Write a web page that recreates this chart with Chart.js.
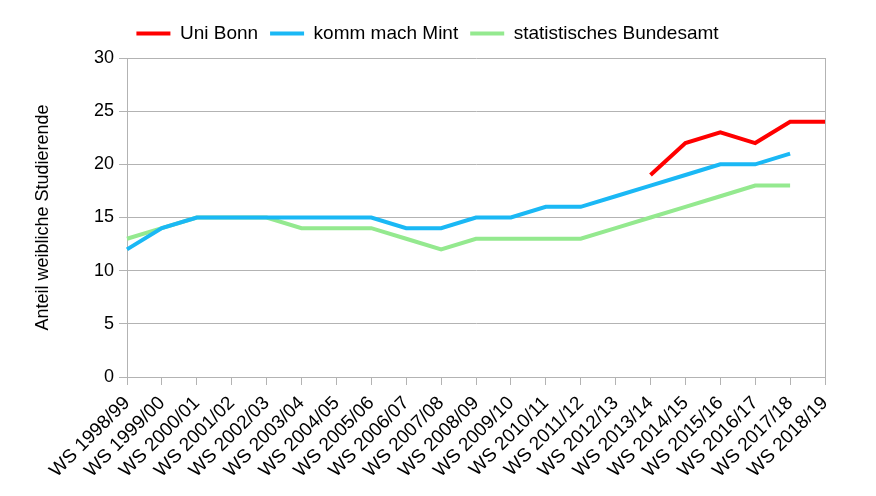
<!DOCTYPE html>
<html lang="de">
<head>
    <meta charset="UTF-8">
    <title>Anteil weibliche Studierende</title>
    <script src="https://cdn.jsdelivr.net/npm/chart.js"></script>
    <style>
        body { margin: 0; background: #fff; }
        #wrap { width: 876px; height: 496px; }
    </style>
</head>
<body>
    <div id="wrap"><canvas id="grafico"></canvas></div>
    <script>
        const semester = ['WS 1998/99', 'WS 1999/00', 'WS 2000/01', 'WS 2001/02', 'WS 2002/03',
            'WS 2003/04', 'WS 2004/05', 'WS 2005/06', 'WS 2006/07', 'WS 2007/08', 'WS 2008/09',
            'WS 2009/10', 'WS 2010/11', 'WS 2011/12', 'WS 2012/13', 'WS 2013/14', 'WS 2014/15',
            'WS 2015/16', 'WS 2016/17', 'WS 2017/18', 'WS 2018/19'];
        const uniBonn = [null, null, null, null, null, null, null, null, null, null, null,
            null, null, null, null, 19, 22, 23, 22, 24, 24];
        const kommMachMint = [12, 14, 15, 15, 15, 15, 15, 15, 14, 14, 15,
            15, 16, 16, 17, 18, 19, 20, 20, 21, null];
        const statBundesamt = [13, 14, 15, 15, 15, 14, 14, 14, 13, 12, 13,
            13, 13, 13, 14, 15, 16, 17, 18, 18, null];

        const grigio = '#b3b3b3';
        Chart.defaults.font.family = '"Liberation Sans", Arial, sans-serif';
        Chart.defaults.font.size = 18;
        Chart.defaults.color = '#000';

        function serie(label, data, colore) {
            return {
                label: label,
                data: data,
                borderColor: colore,
                backgroundColor: colore,
                borderWidth: 4,
                pointRadius: 0,
                tension: 0,
                spanGaps: false
            };
        }

        // spazio extra sotto la legenda
        const spazioLegenda = {
            id: 'spazioLegenda',
            beforeLayout(chart) {
                const leg = chart.legend;
                if (leg && !leg._patched) {
                    const fit = leg.fit;
                    leg.fit = function () { fit.call(this); this.height += 5; };
                    leg._patched = true;
                }
            }
        };

        new Chart(document.getElementById('grafico'), {
            type: 'line',
            data: {
                labels: semester,
                datasets: [
                    serie('Uni Bonn', uniBonn, '#ff0000'),
                    serie('komm mach Mint', kommMachMint, '#1ab8f5'),
                    serie('statistisches Bundesamt', statBundesamt, '#94e98f')
                ]
            },
            plugins: [spazioLegenda],
            options: {
                responsive: true,
                maintainAspectRatio: false,
                animation: false,
                layout: { padding: { left: 30, right: 51, top: 12, bottom: 0 } },
                plugins: {
                    tooltip: { enabled: false },
                    legend: {
                        labels: {
                            boxWidth: 34,
                            boxHeight: 4,
                            padding: 12,
                            font: { size: 19 },
                            generateLabels: chart => Chart.defaults.plugins.legend.labels
                                .generateLabels(chart).map(l => ({ ...l, lineWidth: 0 }))
                        }
                    }
                },
                scales: {
                    x: {
                        offset: false,
                        grid: {
                            color: ctx => ctx.index === semester.length - 1 ? grigio : 'rgba(0,0,0,0)',
                            tickColor: grigio,
                            tickLength: 8
                        },
                        border: { color: grigio },
                        ticks: { minRotation: 45, maxRotation: 45, autoSkip: false, padding: 7, font: { size: 19 } },
                        afterFit: s => { s.height = 119; }
                    },
                    y: {
                        min: 0,
                        max: 30,
                        grid: { color: grigio, tickLength: 8 },
                        border: { color: grigio },
                        ticks: { stepSize: 5, padding: 5 },
                        title: {
                            display: true,
                            text: 'Anteil weibliche Studierende',
                            padding: { top: 2, bottom: 0 }
                        },
                        afterFit: s => { s.width = 97; }
                    }
                }
            }
        });
    </script>
</body>
</html>
